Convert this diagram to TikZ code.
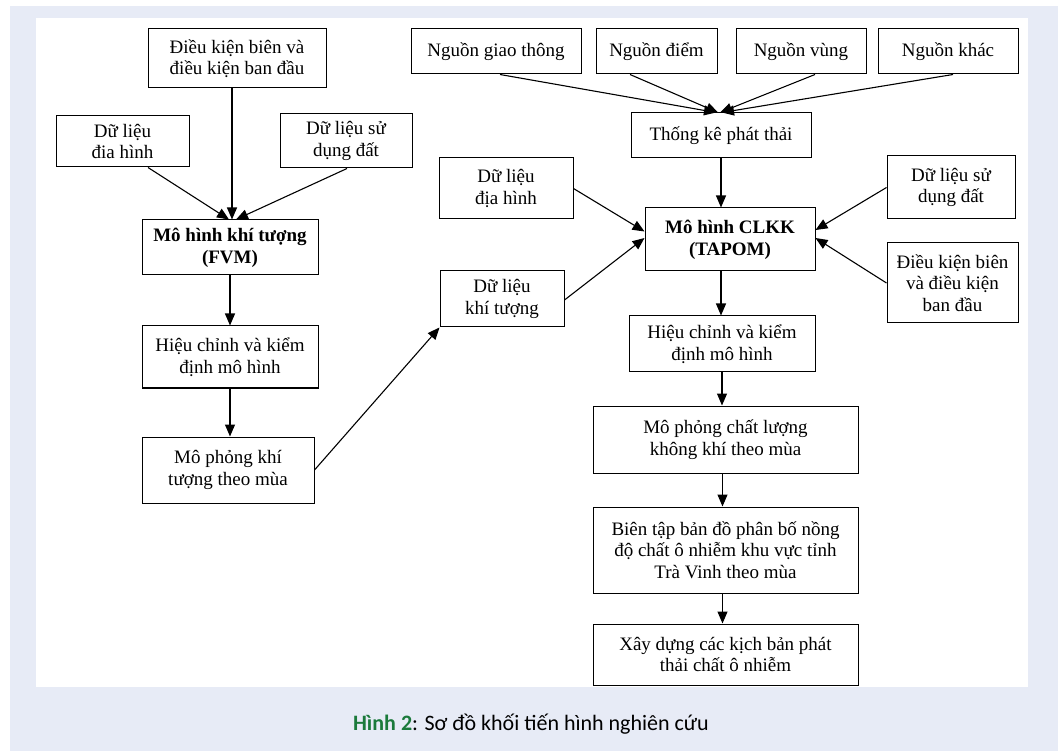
\documentclass[tikz,border=0pt]{standalone}
\usepackage{fontspec}
\setmainfont{Liberation Serif}
\newfontfamily\capfont{Carlito}
\usetikzlibrary{arrows.meta,calc}
\definecolor{bgc}{HTML}{E7EBF6}
\definecolor{capgreen}{HTML}{1B7A3B}
\begin{document}
\begin{tikzpicture}[x=1pt,y=-1pt,
  box/.style={draw, line width=1pt, align=center, inner sep=0pt, font=\fontsize{19}{21.5}\selectfont},
  bbox/.style={box, font=\bfseries\fontsize{19}{22}\selectfont},
  arr/.style={line width=1.1pt, -{Triangle[length=12pt,width=10pt]}}]
\useasboundingbox (0,0) rectangle (1058,751);
\fill[bgc] (10,6) rectangle (1058,751);
\fill[white] (36,18) rectangle (1028,687);
% left part
\node[box, minimum width=178pt, minimum height=59pt] (L1) at (237,58.5) {Điều kiện biên và\\điều kiện ban đầu};
\node[box, minimum width=133pt, minimum height=51pt] (L2) at (122.5,141.5) {Dữ liệu\\đia hình};
\node[box, minimum width=132pt, minimum height=54pt] (L3) at (346,141) {Dữ liệu sử\\dụng đất};
\node[bbox, minimum width=176pt, minimum height=55pt] (L4) at (230,247.5) {Mô hình khí tượng\\(FVM)};
\node[box, minimum width=176pt, minimum height=62pt] (L5) at (230,357) {Hiệu chỉnh và kiểm\\định mô hình};
\node[box, minimum width=172pt, minimum height=66pt] (L6) at (228,470) {Mô phỏng khí\\tượng theo mùa};
\node[box, minimum width=124pt, minimum height=56pt] (KT) at (502,299) {Dữ liệu\\khí tượng};
% right part
\node[box, minimum width=170pt, minimum height=45pt] (N1) at (496,51.5) {Nguồn giao thông};
\node[box, minimum width=121pt, minimum height=45pt] (N2) at (656.5,51.5) {Nguồn điểm};
\node[box, minimum width=130pt, minimum height=45pt] (N3) at (801,51.5) {Nguồn vùng};
\node[box, minimum width=140pt, minimum height=45pt] (N4) at (948,51.5) {Nguồn khác};
\node[box, minimum width=180pt, minimum height=45pt] (TK) at (721,135.5) {Thống kê phát thải};
\node[box, minimum width=134pt, minimum height=61pt] (RDH) at (506,188.5) {Dữ liệu\\địa hình};
\node[bbox, minimum width=170pt, minimum height=63pt] (CL) at (730,239.5) {Mô hình CLKK\\(TAPOM)};
\node[box, minimum width=128pt, minimum height=63pt] (RSD) at (951,187.5) {Dữ liệu sử\\dụng đất};
\node[box, minimum width=131pt, minimum height=80pt] (RDK) at (952.5,283) {Điều kiện biên\\và điều kiện\\ban đầu};
\node[box, minimum width=186pt, minimum height=56pt] (RHC) at (722,344) {Hiệu chỉnh và kiểm\\định mô hình};
\node[box, minimum width=265pt, minimum height=67pt] (RMP) at (725.5,439.5) {Mô phỏng chất lượng\\không khí theo mùa};
\node[box, minimum width=265pt, minimum height=86pt] (RBT) at (725.5,550) {Biên tập bản đồ phân bố nồng\\độ chất ô nhiễm khu vực tỉnh\\Trà Vinh theo mùa};
\node[box, minimum width=265pt, minimum height=61pt] (RXD) at (725.5,654.5) {Xây dựng các kịch bản phát\\thải chất ô nhiễm};
% caption
\node[font=\capfont\fontsize{22}{24}\selectfont] (cap) at (531,724) {\textcolor{capgreen}{\bfseries Hình 2}: Sơ đồ khối tiến hình nghiên cứu};
% left connectors
\draw[arr] ([xshift=-5pt]L1.south) -- ([xshift=2pt]L4.north);
\draw[arr] ([xshift=25.5pt]L2.south) -- ([xshift=-1pt]L4.north);
\draw[arr] ([xshift=1pt]L3.south) -- ([xshift=6pt]L4.north);
\draw[arr] (L4.south) -- (L5.north);
\draw[arr] (L5.south) -- (L5.south |- L6.north);
\draw[arr] (L6.east) -- (KT.south west);
% right connectors
\draw[arr] ([xshift=4pt]N1.south) -- ([xshift=-5pt]TK.north);
\draw[arr] ([xshift=-26.5pt]N2.south) -- ([xshift=-3pt]TK.north);
\draw[arr] ([xshift=14pt]N3.south) -- ([xshift=-1pt]TK.north);
\draw[arr] ([xshift=5pt]N4.south) -- ([xshift=1pt]TK.north);
\draw[arr] (TK.south) -- (TK.south |- CL.north);
\draw[arr] (RDH.east) -- ([yshift=8pt]CL.west);
\draw[arr] ([yshift=-1pt]KT.east) -- ([yshift=1.5pt]CL.west);
\draw[arr] (RSD.west) -- ([yshift=9.5pt]CL.east);
\draw[arr] (RDK.west) -- ([yshift=1.5pt]CL.east);
\draw[arr] ([xshift=-9pt]CL.south) -- ([xshift=-9pt]CL.south |- RHC.north);
\draw[arr] (RHC.south) -- (RHC.south |- RMP.north);
\draw[arr] ([xshift=-3pt]RMP.south) -- ([xshift=-3pt]RBT.north);
\draw[arr] ([xshift=-3pt]RBT.south) -- ([xshift=-3pt]RXD.north);
\end{tikzpicture}
\end{document}
